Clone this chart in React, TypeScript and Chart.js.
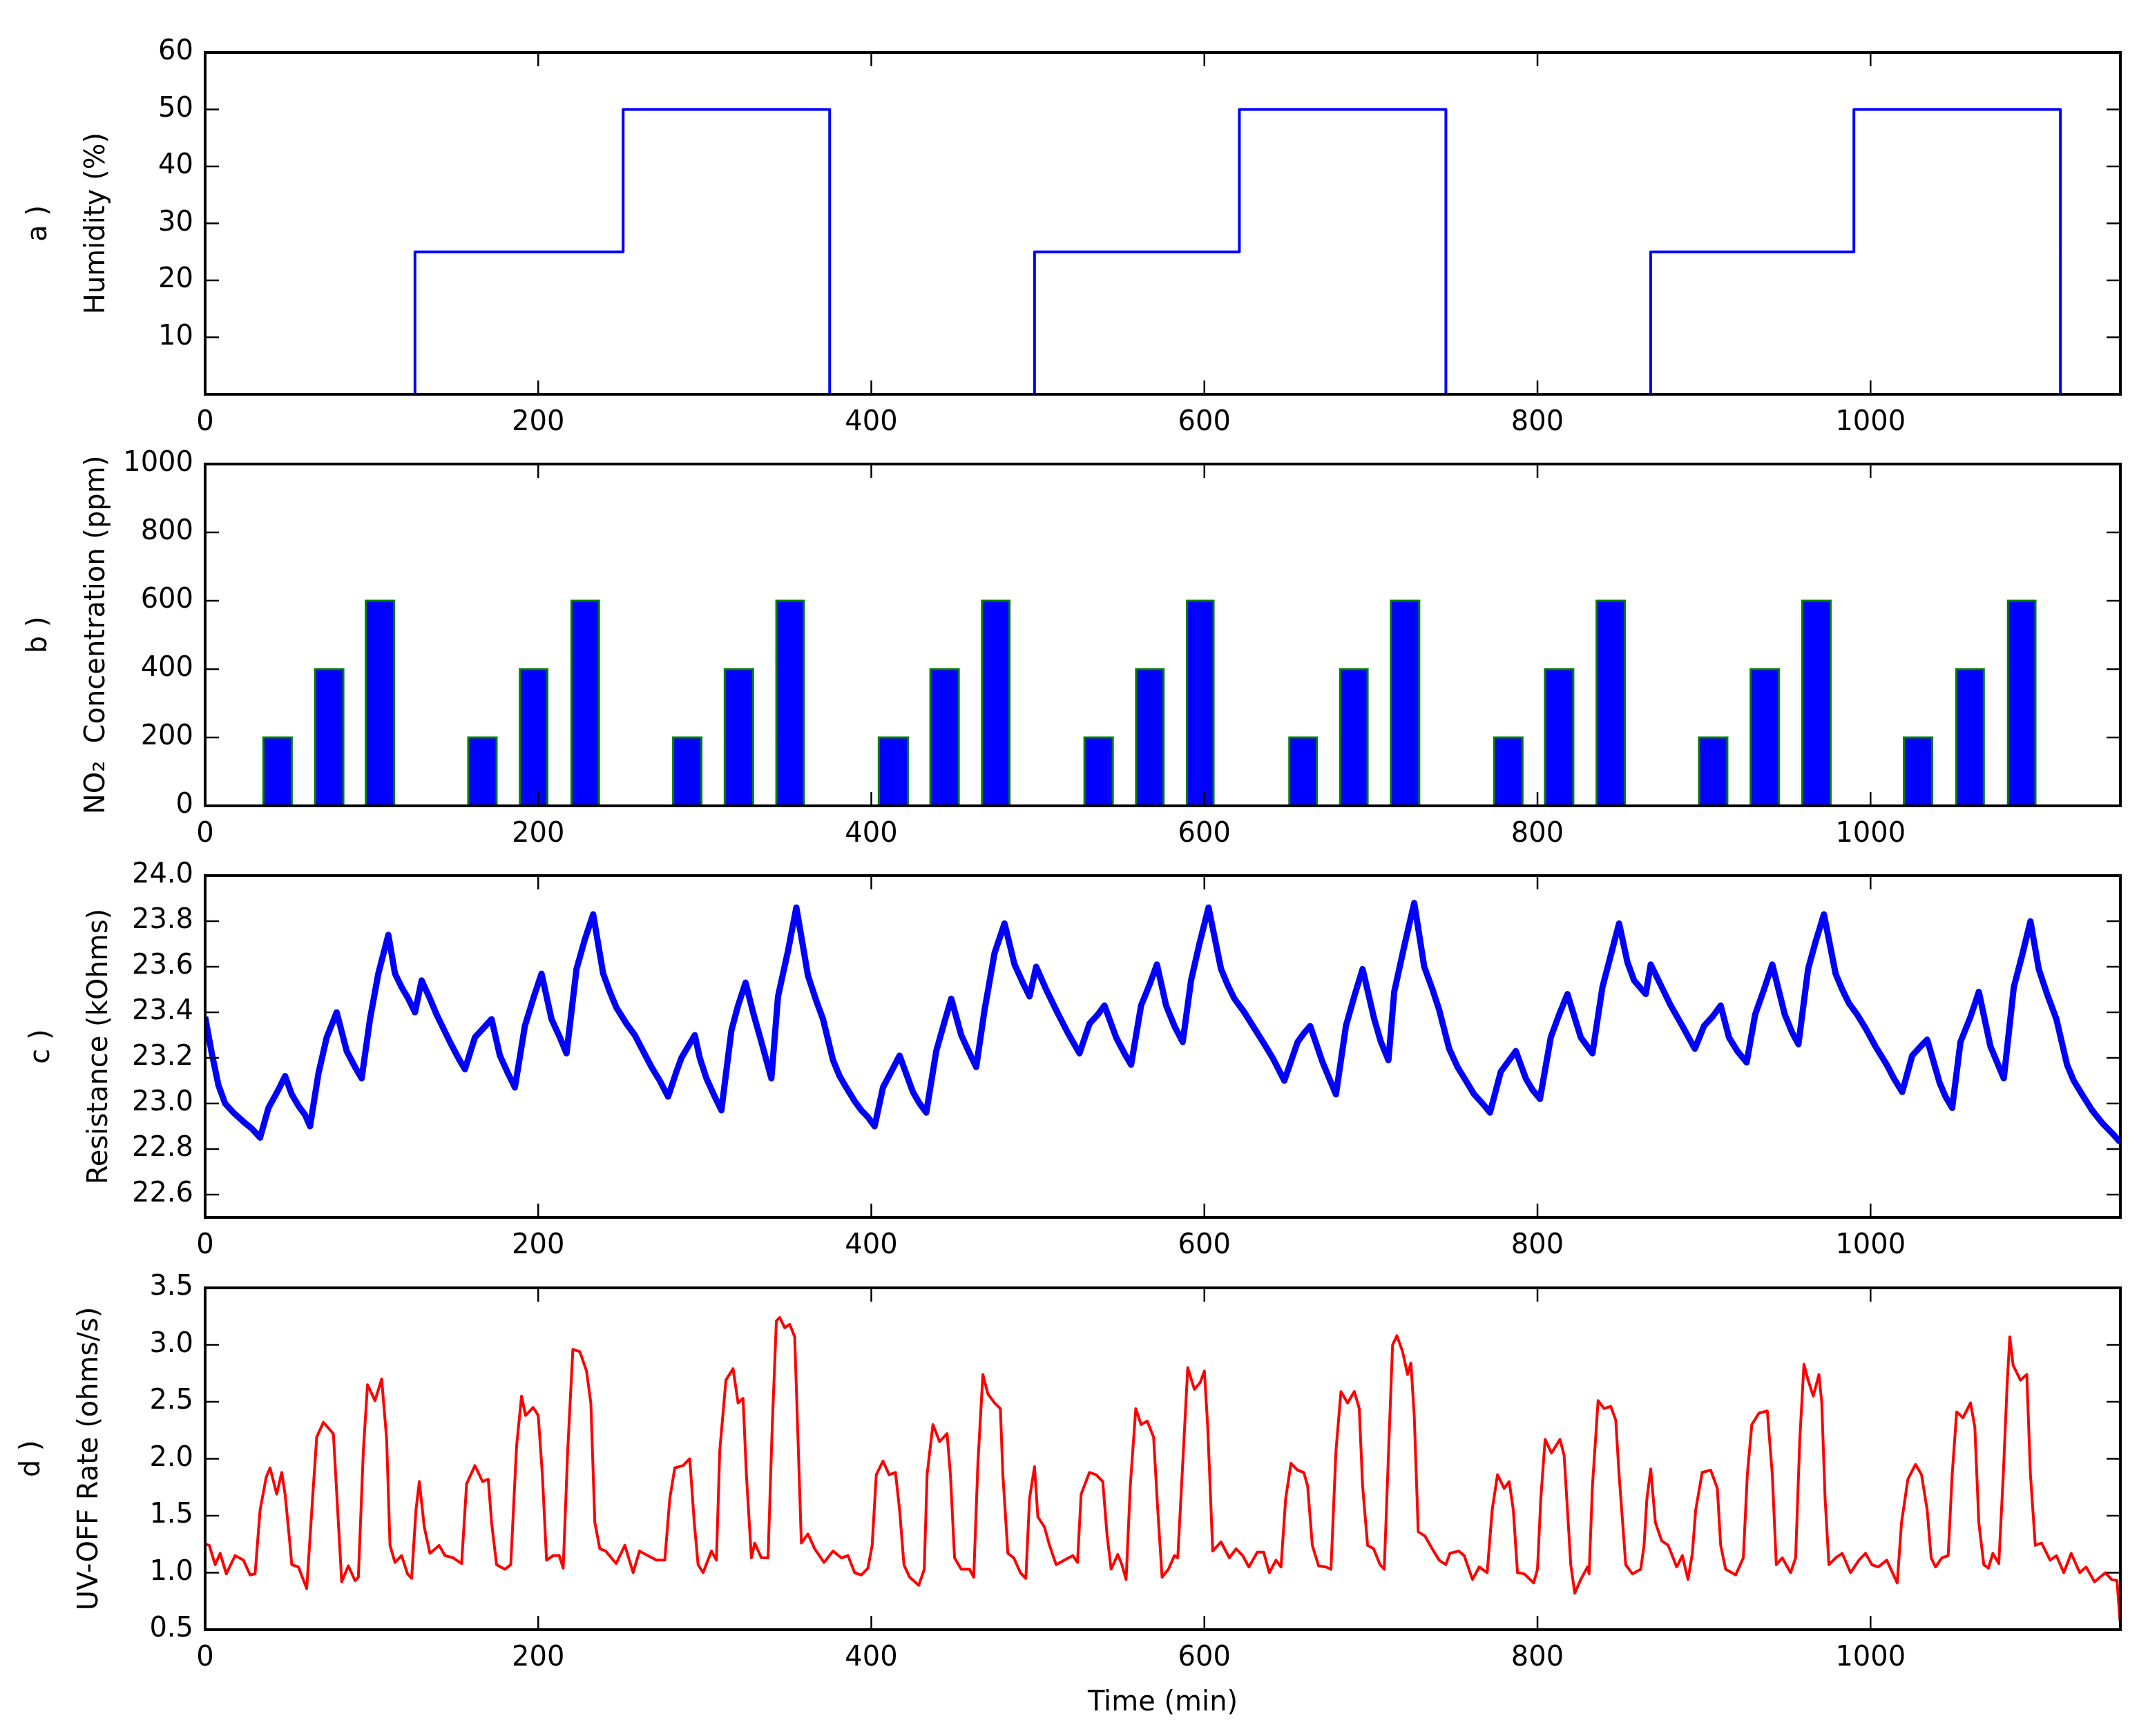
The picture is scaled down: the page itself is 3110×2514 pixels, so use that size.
import { FC, useEffect, useRef } from "react";
import Chart from "chart.js/auto";

Chart.defaults.font.family = "DejaVu Sans";
Chart.defaults.color = "#000";

// page geometry (css px)
const PAGE_W = 3110;
const PAGE_H = 2514;
const PLOT_RIGHT = 3070;
const PLOT_H = 496;
const ROOM_TOP = 40;
const TICK_LEN = 20;

// shared time axis
const timeMax = 1150;
const timeTicks = [0, 200, 400, 600, 800, 1000];

// a) humidity schedule: change times and the level held after each one
const humidityTime = [0, 126, 251, 375, 498, 621, 745, 868, 990, 1114, 1150];
const humidityLevel = [0, 25, 50, 0, 25, 50, 0, 25, 50, 0];
const humidityTicks = [10, 20, 30, 40, 50, 60];

// b) NO2 pulses
const no2Start = [35, 66, 96.5, 158, 189, 220, 281, 312, 343, 404.5, 435.5, 466.5, 528, 559, 589.5, 651, 681.5, 712, 774, 804.5, 835.5, 897, 928, 959, 1020, 1051.5, 1082.5];
const no2End = [52, 83, 113.5, 175, 205.5, 236.5, 298, 329, 359.5, 422, 452.5, 483, 545, 575.5, 605.5, 667.5, 698, 729, 791, 821.5, 852.5, 914, 945, 976, 1037, 1068, 1099];
const no2Level = [200, 400, 600, 200, 400, 600, 200, 400, 600, 200, 400, 600, 200, 400, 600, 200, 400, 600, 200, 400, 600, 200, 400, 600, 200, 400, 600];
const no2Ticks = [0, 200, 400, 600, 800, 1000];

// c) sensor resistance (kOhms)
const resTime = [
  0, 4, 8, 12, 17, 23, 28, 33, 38, 44,
  48, 52, 56, 60, 63, 68, 73, 79, 85, 90,
  94, 99, 104, 110, 114, 118, 122, 126, 130, 135,
  139, 143, 147, 152, 156, 162, 167, 172, 177, 182,
  186, 192, 197, 202, 208, 213, 217, 223, 228, 233,
  239, 243, 247, 253, 258, 263, 268, 273, 278, 283,
  286, 294, 297, 301, 306, 310, 316, 320, 324.5, 329,
  334, 340, 344, 350, 355, 362, 367, 371, 377, 381,
  385, 390, 394, 398, 402, 407, 412, 417, 421, 425,
  429, 433, 439, 444, 448, 454, 459, 463, 468, 474,
  480, 486, 491, 495, 499, 505, 511, 518, 525, 531,
  536, 540, 547, 552, 556, 562, 567, 571.5, 577, 582,
  587, 592, 597, 602.5, 610, 614, 618, 624, 630, 636,
  641, 648, 656, 660, 663.5, 671, 675, 679, 685, 690,
  695, 702, 706, 710.5, 714, 720, 726, 732, 737, 741,
  747, 752, 757, 762, 767, 771.5, 778, 783, 787, 793,
  797, 801.5, 808, 813, 818, 826, 833, 839, 844, 849,
  854, 858, 865, 868, 874, 880, 887, 894.5, 900, 905,
  910, 915, 920, 925.6, 930.7, 936, 941, 948.5, 953, 956.7,
  962.5, 967, 972, 979, 983, 987, 992, 997, 1003, 1009.7,
  1014, 1019, 1025, 1030, 1034, 1041.5, 1045, 1049, 1054, 1060,
  1065, 1072, 1076, 1080, 1086, 1091, 1096, 1101, 1106, 1111.6,
  1118, 1122, 1127, 1133, 1139.6, 1145, 1150,
];
const resValue = [
  23.38, 23.22, 23.08, 23.0, 22.96, 22.92, 22.89, 22.85, 22.98, 23.06,
  23.12, 23.04, 22.99, 22.95, 22.9, 23.13, 23.29, 23.4, 23.23, 23.16,
  23.11, 23.37, 23.57, 23.74, 23.57, 23.51, 23.46, 23.4, 23.54, 23.46,
  23.39, 23.33, 23.27, 23.2, 23.15, 23.29, 23.33, 23.37, 23.21, 23.13,
  23.07, 23.34, 23.46, 23.57, 23.37, 23.29, 23.22, 23.59, 23.72, 23.83,
  23.57, 23.49, 23.42, 23.35, 23.3, 23.23, 23.16, 23.1, 23.03, 23.14,
  23.2, 23.3, 23.2, 23.11, 23.03, 22.97, 23.32, 23.43, 23.53, 23.4,
  23.27, 23.11, 23.47, 23.67, 23.86, 23.56, 23.45, 23.37, 23.19, 23.12,
  23.07, 23.01, 22.97, 22.94, 22.9, 23.07, 23.14, 23.21, 23.13, 23.05,
  23.0, 22.96, 23.23, 23.36, 23.46, 23.3, 23.22, 23.16, 23.41, 23.66,
  23.79, 23.61, 23.53, 23.47, 23.6, 23.5, 23.41, 23.31, 23.22, 23.35,
  23.39, 23.43, 23.29, 23.22, 23.17, 23.43, 23.52, 23.61, 23.43, 23.34,
  23.27, 23.54, 23.7, 23.86, 23.59, 23.52, 23.46, 23.4, 23.33, 23.26,
  23.2, 23.1, 23.27, 23.31, 23.34, 23.18, 23.11, 23.04, 23.34, 23.47,
  23.59, 23.37, 23.27, 23.19, 23.49, 23.69, 23.88, 23.6, 23.5, 23.41,
  23.24, 23.16, 23.1, 23.04, 23.0, 22.96, 23.14, 23.19, 23.23, 23.11,
  23.06, 23.02, 23.29, 23.39, 23.48, 23.29, 23.22, 23.51, 23.65, 23.79,
  23.62, 23.54, 23.48, 23.61, 23.52, 23.43, 23.34, 23.24, 23.34, 23.38,
  23.43, 23.29, 23.23, 23.18, 23.39, 23.5, 23.61, 23.39, 23.31, 23.26,
  23.59, 23.71, 23.83, 23.57, 23.5, 23.44, 23.39, 23.33, 23.25, 23.17,
  23.11, 23.05, 23.21, 23.25, 23.28, 23.09, 23.03, 22.98, 23.27, 23.38,
  23.49, 23.25, 23.18, 23.11, 23.51, 23.65, 23.8, 23.59, 23.48, 23.37,
  23.17, 23.1, 23.04, 22.97, 22.91, 22.87, 22.83,
];
const resTicks = [22.6, 22.8, 23.0, 23.2, 23.4, 23.6, 23.8, 24.0];

// d) UV-OFF rate (ohms/s)
const uvTime = [
  0, 2.5, 6, 9, 12.7, 18, 23, 27, 30, 33,
  36.7, 39, 43, 46, 48, 51, 52, 56, 61, 64.5,
  67, 71, 77, 80, 82, 86, 90, 92, 95, 97.5,
  102, 106, 109, 111, 114, 118, 121.5, 124, 126.6, 128.6,
  131.6, 135, 140.5, 144, 149, 154, 157, 162, 166.6, 170,
  172, 175, 180, 183.5, 187, 190, 192.4, 197, 200, 202.5,
  205, 209, 212.6, 215, 217.7, 220.8, 225, 229, 231.6, 234,
  237, 240.5, 246.8, 252, 257, 260.8, 265.8, 271, 276, 279,
  282, 287, 291, 293.7, 296, 299, 304, 307, 309, 312.7,
  317, 320, 323, 325, 328, 330, 334, 338, 340.5, 343,
  345, 348, 351, 354, 356, 358, 362, 366, 371.6, 377,
  382, 386, 390, 394, 398, 400.5, 403, 407, 410.7, 414.5,
  417, 419.6, 423, 428.5, 431.8, 433.5, 437, 441, 445.5, 447.5,
  450, 454, 459, 461.5, 464, 467, 470, 474, 477.5, 479,
  482, 485.6, 489.5, 492.8, 495, 498, 500, 504, 507, 511,
  516, 521, 523.8, 526, 531, 535, 539, 541.5, 544, 548,
  550.5, 553, 555.5, 558.8, 562, 565.7, 569.5, 572, 574.6, 578.4,
  582, 584, 587, 590, 594, 597.5, 600, 602, 605, 610,
  615, 619, 623, 626.7, 631.8, 635.6, 639, 643, 646, 648.8,
  652, 656, 659.7, 662, 664.8, 668.6, 673, 676, 679, 682,
  686, 690, 693, 695, 698, 701.6, 705.5, 708, 710.6, 713,
  715.6, 719, 722, 724, 726, 728.4, 732.5, 737.6, 741, 745,
  747.4, 752.7, 756, 761, 765, 769.8, 772.8, 776, 780, 783,
  785.5, 788, 792, 797.7, 800, 802, 804.6, 808.4, 813.5, 816,
  818, 820, 822.4, 826, 830, 831, 833, 836.4, 840, 844,
  847, 849, 853, 857, 862, 864, 865.7, 868, 870.8, 874.6,
  878.5, 883.6, 887, 890.4, 893, 895, 898.9, 904, 908, 910,
  913, 919, 923.6, 926, 928.7, 933, 938, 941, 943.4, 947,
  952, 955, 957.5, 960, 962.5, 965.6, 969, 970.7, 972.7, 975,
  979, 983, 988, 993, 997, 1000.8, 1004.6, 1009.7, 1016, 1018.6,
  1022.4, 1027, 1030.6, 1034, 1036.4, 1039, 1042.8, 1046.6, 1049, 1051.7,
  1055.5, 1060, 1062.6, 1065, 1068, 1070.8, 1073.4, 1077, 1079.7, 1082,
  1083.6, 1085.6, 1090, 1093.8, 1096, 1098.9, 1102.7, 1107.8, 1111.6, 1116,
  1120.5, 1125.6, 1129.4, 1134.5, 1141, 1144.7, 1148, 1149.8,
];
const uvValue = [
  1.25, 1.24, 1.07, 1.17, 0.99, 1.15, 1.11, 0.98, 0.99, 1.55,
  1.84, 1.92, 1.69, 1.88, 1.69, 1.24, 1.07, 1.05, 0.86, 1.65,
  2.19, 2.32, 2.22, 1.44, 0.92, 1.06, 0.93, 0.96, 2.07, 2.65,
  2.51, 2.7, 2.17, 1.24, 1.09, 1.15, 0.99, 0.95, 1.55, 1.8,
  1.4, 1.17, 1.24, 1.15, 1.13, 1.08, 1.78, 1.94, 1.8, 1.82,
  1.44, 1.07, 1.03, 1.07, 2.11, 2.55, 2.38, 2.45, 2.38, 1.86,
  1.11, 1.15, 1.15, 1.04, 2.07, 2.96, 2.94, 2.77, 2.49, 1.44,
  1.21, 1.19, 1.08, 1.24, 1.0, 1.19, 1.15, 1.11, 1.11, 1.65,
  1.92, 1.94, 2.0, 1.44, 1.07, 1.0, 1.19, 1.11, 2.07, 2.69,
  2.79, 2.49, 2.53, 1.86, 1.13, 1.26, 1.13, 1.13, 2.28, 3.21,
  3.24, 3.15, 3.18, 3.07, 2.17, 1.26, 1.34, 1.21, 1.09, 1.19,
  1.13, 1.15, 1.0, 0.98, 1.04, 1.24, 1.86, 1.98, 1.86, 1.88,
  1.55, 1.07, 0.96, 0.89, 1.03, 1.86, 2.3, 2.15, 2.22, 1.86,
  1.13, 1.03, 1.03, 0.96, 1.96, 2.74, 2.57, 2.49, 2.44, 1.86,
  1.17, 1.13, 1.0, 0.95, 1.65, 1.93, 1.49, 1.4, 1.24, 1.07,
  1.11, 1.15, 1.09, 1.69, 1.88, 1.86, 1.8, 1.34, 1.03, 1.16,
  1.07, 0.94, 1.76, 2.44, 2.3, 2.33, 2.19, 1.55, 0.96, 1.03,
  1.15, 1.13, 1.96, 2.8, 2.61, 2.67, 2.77, 2.28, 1.19, 1.27,
  1.13, 1.21, 1.15, 1.05, 1.18, 1.18, 1.0, 1.11, 1.05, 1.65,
  1.96, 1.9, 1.88, 1.76, 1.24, 1.06, 1.05, 1.03, 2.07, 2.59,
  2.49, 2.59, 2.44, 1.76, 1.24, 1.21, 1.07, 1.03, 2.07, 3.0,
  3.08, 2.94, 2.74, 2.84, 2.38, 1.36, 1.32, 1.19, 1.11, 1.07,
  1.17, 1.19, 1.15, 0.94, 1.05, 1.0, 1.55, 1.86, 1.74, 1.8,
  1.55, 1.0, 0.99, 0.91, 1.03, 1.65, 2.17, 2.05, 2.17, 2.03,
  1.55, 1.07, 0.82, 0.94, 1.05, 0.99, 1.76, 2.51, 2.44, 2.46,
  2.34, 1.86, 1.07, 0.99, 1.03, 1.24, 1.65, 1.91, 1.44, 1.28,
  1.24, 1.05, 1.15, 0.94, 1.17, 1.55, 1.88, 1.9, 1.74, 1.24,
  1.03, 0.98, 1.13, 1.86, 2.3, 2.4, 2.42, 1.86, 1.07, 1.13,
  1.0, 1.13, 2.17, 2.83, 2.69, 2.55, 2.74, 2.49, 1.65, 1.07,
  1.13, 1.17, 1.0, 1.11, 1.17, 1.07, 1.05, 1.11, 0.91, 1.44,
  1.82, 1.95, 1.86, 1.55, 1.13, 1.05, 1.13, 1.15, 1.86, 2.41,
  2.36, 2.49, 2.28, 1.44, 1.07, 1.04, 1.17, 1.08, 1.86, 2.65,
  3.07, 2.82, 2.69, 2.74, 1.86, 1.24, 1.26, 1.11, 1.15, 1.0,
  1.17, 1.0, 1.05, 0.92, 1.0, 0.94, 0.93, 0.57,
];
const uvTicks = [0.5, 1.0, 1.5, 2.0, 2.5, 3.0, 3.5];

// point lists built from the arrays above
const humidityPoints = humidityLevel.flatMap((lvl, i) => [
  { x: humidityTime[i], y: lvl },
  { x: humidityTime[i + 1], y: lvl },
]);
const no2Points = no2Start.flatMap((s, i) => [
  { x: s, y: 0 },
  { x: s, y: no2Level[i] },
  { x: no2End[i], y: no2Level[i] },
  { x: no2End[i], y: 0 },
]);
const resPoints = resTime.map((t, i) => ({ x: t, y: resValue[i] }));
const uvPoints = uvTime.map((t, i) => ({ x: t, y: uvValue[i] }));

// matplotlib-classic look: box frame with inward ticks on all four sides
const framePlugin = {
  id: "frame",
  afterDatasetsDraw(chart: any) {
    const { ctx, chartArea: a } = chart;
    const xs = chart.scales.x;
    const ys = chart.scales.y;
    ctx.save();
    ctx.strokeStyle = "#000";
    ctx.lineWidth = 2.5;
    ctx.beginPath();
    xs.ticks.forEach((t: any) => {
      const p = xs.getPixelForValue(t.value);
      ctx.moveTo(p, a.bottom);
      ctx.lineTo(p, a.bottom - TICK_LEN);
      ctx.moveTo(p, a.top);
      ctx.lineTo(p, a.top + TICK_LEN);
    });
    ys.ticks.forEach((t: any) => {
      const p = ys.getPixelForValue(t.value);
      ctx.moveTo(a.left, p);
      ctx.lineTo(a.left + TICK_LEN, p);
      ctx.moveTo(a.right, p);
      ctx.lineTo(a.right - TICK_LEN, p);
    });
    ctx.stroke();
    ctx.lineWidth = 4;
    ctx.strokeRect(a.left, a.top, a.right - a.left, a.bottom - a.top);
    ctx.restore();
  },
};

interface PanelProps {
  plotTop: number;
  points: { x: number; y: number }[];
  color: string;
  lineWidth: number;
  fillColor?: string;
  yMin: number;
  yMax: number;
  yTicks: number[];
  digits: number;
  yTitle: string[];
  yTitlePad: number;
  xTitle?: string;
}

const Panel: FC<PanelProps> = ({
  plotTop,
  points,
  color,
  lineWidth,
  fillColor,
  yMin,
  yMax,
  yTicks,
  digits,
  yTitle,
  yTitlePad,
  xTitle,
}) => {
  const canvasRef = useRef<HTMLCanvasElement | null>(null);
  const xAxisH = xTitle ? 131 : 64;
  const height = ROOM_TOP + PLOT_H + xAxisH;

  useEffect(() => {
    if (!canvasRef.current) return;
    const chart = new Chart(canvasRef.current, {
      type: "line",
      data: {
        datasets: [
          {
            data: points,
            borderColor: color,
            borderWidth: lineWidth,
            backgroundColor: fillColor ?? "transparent",
            fill: fillColor ? "origin" : false,
            pointRadius: 0,
            tension: 0,
            borderJoinStyle: fillColor ? "miter" : "round",
          },
        ],
      },
      options: {
        responsive: false,
        animation: false,
        events: [],
        layout: { padding: { left: 0, right: PAGE_W - PLOT_RIGHT, top: ROOM_TOP, bottom: 0 } },
        plugins: { legend: { display: false }, tooltip: { enabled: false } },
        scales: {
          x: {
            type: "linear",
            min: 0,
            max: timeMax,
            grid: { display: false, drawTicks: false },
            border: { display: false },
            ticks: {
              font: { size: 40 },
              padding: 18,
              autoSkip: false,
              maxRotation: 0,
              callback: (v: any) => String(v),
            },
            afterBuildTicks: (s: any) => {
              s.ticks = timeTicks.map((v) => ({ value: v }));
            },
            afterFit: (s: any) => {
              s.height = xAxisH;
            },
            title: {
              display: !!xTitle,
              text: xTitle ?? "",
              font: { size: 40 },
              padding: { top: 0, bottom: 0 },
            },
          },
          y: {
            type: "linear",
            min: yMin,
            max: yMax,
            grid: { display: false, drawTicks: false },
            border: { display: false },
            ticks: {
              font: { size: 40 },
              padding: 17,
              autoSkip: false,
              callback: (v: any) => Number(v).toFixed(digits),
            },
            afterBuildTicks: (s: any) => {
              s.ticks = yTicks.map((v) => ({ value: v }));
            },
            afterFit: (s: any) => {
              s.width = 297;
            },
            title: {
              display: true,
              text: yTitle,
              font: { size: 40, lineHeight: 2.1 },
              padding: { top: yTitlePad, bottom: 0 },
            },
          },
        },
      },
      plugins: [framePlugin],
    } as any);

    return () => {
      chart.destroy();
    };
  }, []);

  return (
    <canvas
      ref={canvasRef}
      width={PAGE_W}
      height={height}
      style={{ position: "absolute", left: 0, top: plotTop - ROOM_TOP, width: PAGE_W, height }}
    />
  );
};

const App: FC = () => {
  return (
    <div
      style={{
        position: "absolute",
        left: 0,
        top: 0,
        width: PAGE_W,
        height: PAGE_H,
        background: "#fff",
      }}
    >
      <Panel
        plotTop={75}
        points={humidityPoints}
        color="#0000ff"
        lineWidth={4}
        yMin={0}
        yMax={60}
        yTicks={humidityTicks}
        digits={0}
        yTitle={["a )", "Humidity (%)"]}
        yTitlePad={15}
      />
      <Panel
        plotTop={671}
        points={no2Points}
        color="#008000"
        lineWidth={3}
        fillColor="#0000ff"
        yMin={0}
        yMax={1000}
        yTicks={no2Ticks}
        digits={0}
        yTitle={["b )", "NO\u2082  Concentration (ppm)"]}
        yTitlePad={15}
      />
      <Panel
        plotTop={1267}
        points={resPoints}
        color="#0000ff"
        lineWidth={9}
        yMin={22.5}
        yMax={24.0}
        yTicks={resTicks}
        digits={1}
        yTitle={["c )", "Resistance (kOhms)"]}
        yTitlePad={19}
      />
      <Panel
        plotTop={1864}
        points={uvPoints}
        color="#ff0000"
        lineWidth={4}
        yMin={0.5}
        yMax={3.5}
        yTicks={uvTicks}
        digits={1}
        yTitle={["d )", "UV-OFF Rate (ohms/s)"]}
        yTitlePad={5}
        xTitle="Time (min)"
      />
    </div>
  );
};

export default App;
